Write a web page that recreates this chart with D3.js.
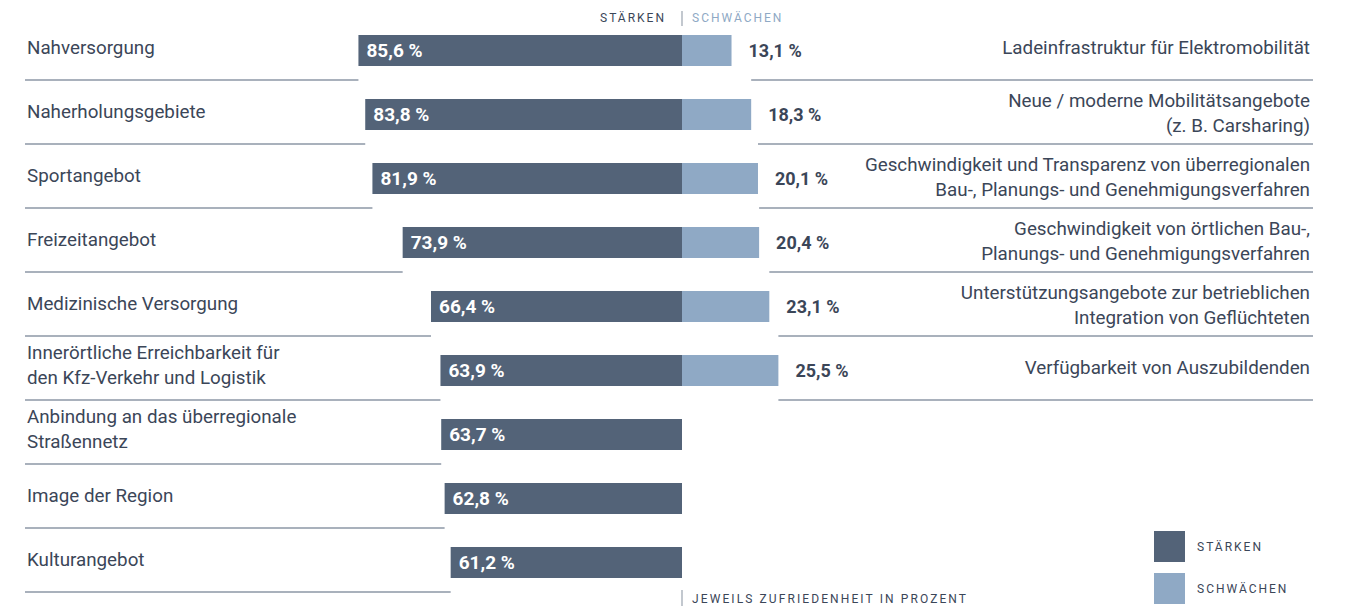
<!DOCTYPE html>
<html lang="de">
<head>
<meta charset="utf-8">
<script src="https://cdn.jsdelivr.net/npm/d3@7"></script>
<style>
  html, body { margin: 0; padding: 0; background: #ffffff; }
  svg { display: block; }
  text { font-family: Roboto, "Noto Sans", sans-serif; }
</style>
</head>
<body>
<svg id="chart" width="1345" height="607"></svg>
<script>
// Stärken (linke Seite) – Zufriedenheit in Prozent
const strengthLabels = [
  "Nahversorgung",
  "Naherholungsgebiete",
  "Sportangebot",
  "Freizeitangebot",
  "Medizinische Versorgung",
  "Innerörtliche Erreichbarkeit für\nden Kfz-Verkehr und Logistik",
  "Anbindung an das überregionale\nStraßennetz",
  "Image der Region",
  "Kulturangebot"
];
const strengthValues = [85.6, 83.8, 81.9, 73.9, 66.4, 63.9, 63.7, 62.8, 61.2];

// Schwächen (rechte Seite) – Zufriedenheit in Prozent
const weaknessLabels = [
  "Ladeinfrastruktur für Elektromobilität",
  "Neue / moderne Mobilitätsangebote\n(z. B. Carsharing)",
  "Geschwindigkeit und Transparenz von überregionalen\nBau-, Planungs- und Genehmigungsverfahren",
  "Geschwindigkeit von örtlichen Bau-,\nPlanungs- und Genehmigungsverfahren",
  "Unterstützungsangebote zur betrieblichen\nIntegration von Geflüchteten",
  "Verfügbarkeit von Auszubildenden"
];
const weaknessValues = [13.1, 18.3, 20.1, 20.4, 23.1, 25.5];

const legendLabels = ["STÄRKEN", "SCHWÄCHEN"];
const footnote = "JEWEILS ZUFRIEDENHEIT IN PROZENT";

const fmt = v => v.toFixed(1).replace(".", ",") + " %";

const colStrong = "#536378";
const colWeak = "#8fa9c5";
const colText = "#3b4658";
const colRule = "#8d97a6";

const svg = d3.select("#chart");

const centerX = 682;
const leftEdge = 25;
const rightEdge = 1313;
const barH = 31;

// length scale shared by both directions
const len = d3.scaleLinear().domain([0, 100]).range([0, 378]);

// one band per row
const rows = d3.range(strengthLabels.length);
const y = d3.scaleBand().domain(rows).range([19, 19 + 64 * rows.length]).padding(0);
const barTop = i => y(i) + 16;
const barMid = i => barTop(i) + barH / 2;
const ruleY = i => y(i) + 61;

// multi-line text helper
function multiline(sel, str, cx, cy, anchor, shift2) {
  const lines = str.split("\n");
  const n = lines.length;
  const t = sel.append("text")
    .attr("text-anchor", anchor)
    .attr("font-size", 18.8)
    .attr("fill", colText);
  lines.forEach((ln, k) => {
    t.append("tspan")
      .attr("x", cx)
      .attr("y", cy + 5.5 + (k - (n - 1) / 2) * 24.5 + (n - 1) * shift2)
      .text(ln);
  });
  return t;
}

// ---- Stärken ----
const gS = svg.append("g");
gS.selectAll("rect").data(strengthValues).join("rect")
  .attr("x", d => centerX - len(d))
  .attr("y", (d, i) => barTop(i))
  .attr("width", d => len(d))
  .attr("height", barH)
  .attr("fill", colStrong);

gS.selectAll("text.val").data(strengthValues).join("text")
  .attr("class", "val")
  .attr("x", d => centerX - len(d) + 8)
  .attr("y", (d, i) => barMid(i) + 6.5)
  .attr("font-size", 19)
  .attr("font-weight", 700)
  .attr("fill", "#ffffff")
  .text(fmt);

strengthLabels.forEach((lab, i) => multiline(gS, lab, 27, barMid(i) - 2, "start", -2.5));

// separator rules reach out to the wider of the two neighbouring bars
gS.selectAll("line").data(strengthValues).join("line")
  .attr("x1", leftEdge)
  .attr("x2", (d, i) => centerX - len(Math.max(d, strengthValues[i + 1] ?? 0)))
  .attr("y1", (d, i) => ruleY(i))
  .attr("y2", (d, i) => ruleY(i))
  .attr("stroke", colRule)
  .attr("stroke-width", 1.6);

// ---- Schwächen ----
const gW = svg.append("g");
gW.selectAll("rect").data(weaknessValues).join("rect")
  .attr("x", centerX)
  .attr("y", (d, i) => barTop(i))
  .attr("width", d => len(d))
  .attr("height", barH)
  .attr("fill", colWeak);

gW.selectAll("text.val").data(weaknessValues).join("text")
  .attr("class", "val")
  .attr("x", d => centerX + len(d) + 17)
  .attr("y", (d, i) => barMid(i) + 6.5)
  .attr("font-size", 18)
  .attr("font-weight", 700)
  .attr("fill", colText)
  .text(fmt);

weaknessLabels.forEach((lab, i) => multiline(gW, lab, 1310, barMid(i) - 2, "end", 1.5));

gW.selectAll("line").data(weaknessValues).join("line")
  .attr("x1", (d, i) => centerX + len(Math.max(d, weaknessValues[i + 1] ?? 0)))
  .attr("x2", rightEdge)
  .attr("y1", (d, i) => ruleY(i))
  .attr("y2", (d, i) => ruleY(i))
  .attr("stroke", colRule)
  .attr("stroke-width", 1.6);

// ---- Kopfzeile ----
const head = svg.append("g");
head.append("text")
  .attr("x", centerX - 16).attr("y", 22)
  .attr("text-anchor", "end")
  .attr("font-size", 12).attr("letter-spacing", 2)
  .attr("fill", colText)
  .text(legendLabels[0]);
head.append("line")
  .attr("x1", centerX).attr("x2", centerX)
  .attr("y1", 11).attr("y2", 26)
  .attr("stroke", "#9aa3af").attr("stroke-width", 1.2);
head.append("text")
  .attr("x", centerX + 10).attr("y", 22)
  .attr("font-size", 12).attr("letter-spacing", 2)
  .attr("fill", colWeak)
  .text(legendLabels[1]);

// ---- Fußnote ----
svg.append("line")
  .attr("x1", centerX).attr("x2", centerX)
  .attr("y1", 590).attr("y2", 606)
  .attr("stroke", "#9aa3af").attr("stroke-width", 1.2);
svg.append("text")
  .attr("x", centerX + 10).attr("y", 603)
  .attr("font-size", 12).attr("letter-spacing", 2.1)
  .attr("fill", colText)
  .text(footnote);

// ---- Legende ----
const leg = svg.append("g").attr("transform", "translate(1154,531)");
const legColors = [colStrong, colWeak];
leg.selectAll("rect").data(legendLabels).join("rect")
  .attr("x", 0)
  .attr("y", (d, i) => i * 42)
  .attr("width", 31)
  .attr("height", 31)
  .attr("fill", (d, i) => legColors[i]);
leg.selectAll("text").data(legendLabels).join("text")
  .attr("x", 43)
  .attr("y", (d, i) => i * 42 + 20)
  .attr("font-size", 12).attr("letter-spacing", 2)
  .attr("fill", colText)
  .text(d => d);
</script>
</body>
</html>
